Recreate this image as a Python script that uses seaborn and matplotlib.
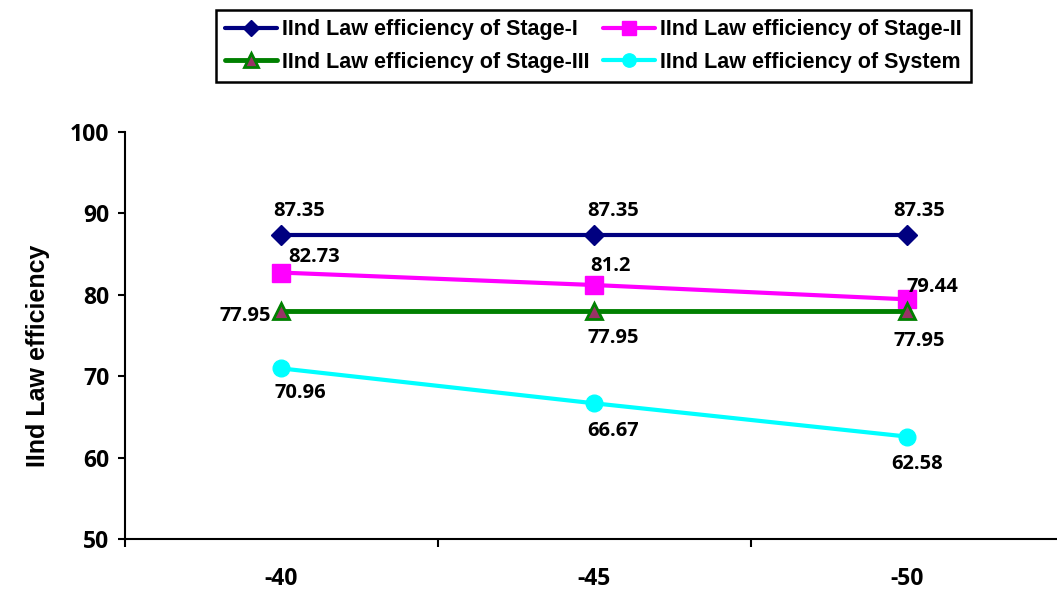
import numpy as np
import pandas as pd
import matplotlib
matplotlib.use("Agg")
import matplotlib.pyplot as plt
import seaborn as sns
from matplotlib.ticker import FixedLocator, NullFormatter

# Evaporator temperatures (categories) and second-law efficiencies
temperatures = ["-40", "-45", "-50"]
stage1 = [87.35, 87.35, 87.35]
stage2 = [82.73, 81.2, 79.44]
stage3 = [77.95, 77.95, 77.95]
system = [70.96, 66.67, 62.58]

series_names = [
    "IInd Law efficiency of Stage-I",
    "IInd Law efficiency of Stage-II",
    "IInd Law efficiency of Stage-III",
    "IInd Law efficiency of System",
]

yticks = [50, 60, 70, 80, 90, 100]

sns.set_theme(style="white")
plt.rcParams["font.family"] = ["Liberation Sans", "DejaVu Sans"]
plt.rcParams.update({
    "text.color": "black",
    "axes.labelcolor": "black",
    "xtick.color": "black",
    "ytick.color": "black",
})

frames = []
for name, vals in zip(series_names, [stage1, stage2, stage3, system]):
    frames.append(pd.DataFrame({"temp": temperatures, "eff": vals, "series": name}))
df = pd.concat(frames, ignore_index=True)

fig = plt.figure(figsize=(10.57, 5.97), dpi=100)
ax = fig.add_axes([0.1178, 0.0972, 0.8884, 0.6817])

styles = {
    series_names[0]: dict(color="#000080", marker="D", markersize=10, lw=3,
                          mfc="#000080", mec="#000080"),
    series_names[1]: dict(color="#FF00FF", marker="s", markersize=13, lw=3,
                          mfc="#FF00FF", mec="#FF00FF"),
    series_names[2]: dict(color="#008000", marker="^", markersize=12, lw=3.5,
                          mfc="#993366", mec="#008000", mew=2),
    series_names[3]: dict(color="#00FFFF", marker="o", markersize=12, lw=3,
                          mfc="#00FFFF", mec="#00FFFF"),
}

for name in series_names:
    st = styles[name]
    sub = df[df["series"] == name]
    sns.lineplot(data=sub, x="temp", y="eff", ax=ax, label=name,
                 color=st["color"], linewidth=st["lw"], marker=st["marker"],
                 markersize=st["markersize"], markerfacecolor=st["mfc"],
                 markeredgecolor=st["mec"], markeredgewidth=st.get("mew", 1),
                 sort=False, estimator=None)

# Value labels (offsets in points)
num_font = "Open Sans"
label_font = dict(fontfamily=num_font, fontweight="bold", fontsize=14.5, color="black")
offsets = {
    0: [(13, 17), (14, 17), (9, 17)],
    1: [(24, 11), (12, 14), (18, 9)],
    2: [(-26, -3), (14, -19), (9, -21)],
    3: [(14, -18), (14, -20), (7, -20)],
}
for si, vals in enumerate([stage1, stage2, stage3, system]):
    for xi, v in enumerate(vals):
        dx, dy = offsets[si][xi]
        ax.annotate(f"{v:g}", (xi, v), xytext=(dx, dy), textcoords="offset points",
                    ha="center", va="center", **label_font)

ax.set_xlim(-0.5, 2.5)
ax.set_ylim(50, 100)
ax.set_yticks(yticks)
ax.set_yticklabels([str(t) for t in yticks], fontfamily=num_font, fontweight="bold",
                   fontsize=16.5, color="black")

# Category ticks between categories, labels centred on categories
ax.xaxis.set_major_locator(FixedLocator([-0.5, 0.5, 1.5, 2.5]))
ax.xaxis.set_major_formatter(NullFormatter())
ax.xaxis.set_minor_locator(FixedLocator([0, 1, 2]))
ax.set_xticklabels(temperatures, minor=True, fontfamily=num_font, fontweight="bold",
                   fontsize=16.5, color="black")
ax.tick_params(axis="x", which="minor", length=0, pad=20)
ax.tick_params(axis="x", which="major", direction="out", length=6, width=1.5,
               color="black", bottom=True)
ax.tick_params(axis="y", direction="out", length=5, width=1.5, color="black",
               left=True, pad=6)

for side in ["top", "right"]:
    ax.spines[side].set_visible(False)
for side in ["left", "bottom"]:
    ax.spines[side].set_color("black")
    ax.spines[side].set_linewidth(1.5)

ax.set_xlabel("")
ax.set_ylabel("IInd Law efficiency", fontfamily="Liberation Sans", fontweight="bold",
              fontsize=18, color="black")
ax.yaxis.set_label_coords(-0.079, 0.45)

handles, labels = ax.get_legend_handles_labels()
ax.get_legend().remove()
order = [0, 2, 1, 3]
leg = fig.legend([handles[i] for i in order], [labels[i] for i in order], ncol=2,
                 loc="center", bbox_to_anchor=(593.5 / 1057, 1 - 46 / 597),
                 prop=dict(family="Liberation Sans", weight="bold", size=15.5),
                 frameon=True, fancybox=False, edgecolor="black", framealpha=1,
                 handlelength=2.4, columnspacing=0.65, handletextpad=0.25,
                 labelspacing=0.55, borderpad=0.4, markerscale=0.8)
leg.get_frame().set_linewidth(1.8)
leg.get_frame().set_edgecolor("black")
for t in leg.get_texts():
    t.set_color("black")

fig.savefig("out.png", dpi=100, facecolor="white")
